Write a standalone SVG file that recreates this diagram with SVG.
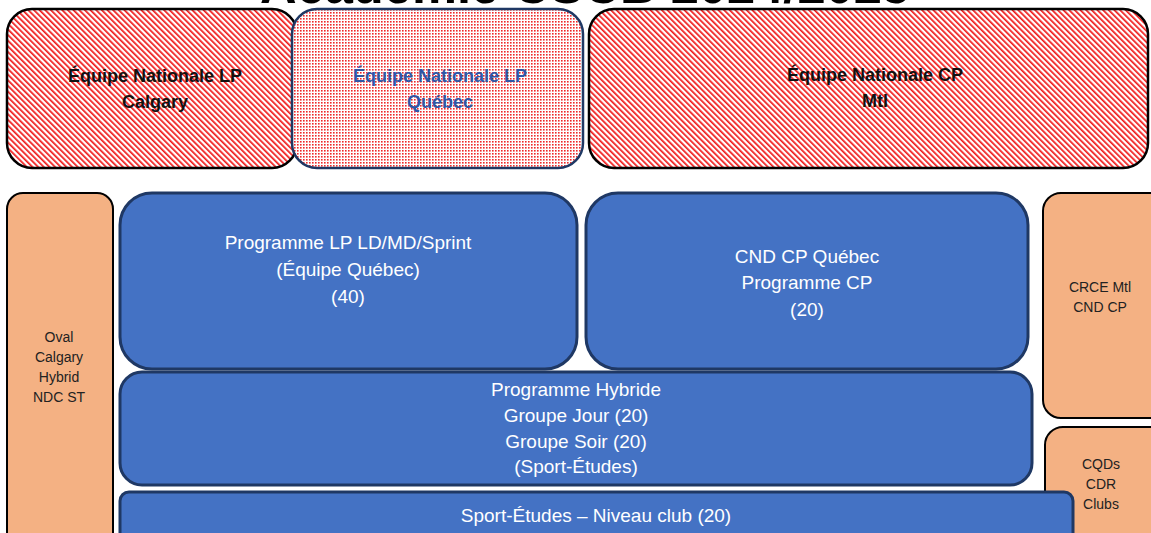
<svg xmlns="http://www.w3.org/2000/svg" width="1151" height="533" viewBox="0 0 1151 533">
  <defs>
    <pattern id="hatch" patternUnits="userSpaceOnUse" width="4" height="4" patternTransform="rotate(-45)">
      <rect width="4" height="4" fill="#ffffff"/>
      <rect width="1.7" height="4" fill="#f01818"/>
    </pattern>
    <pattern id="dots" patternUnits="userSpaceOnUse" width="3" height="3">
      <rect width="3" height="3" fill="#ffffff"/>
      <rect width="1.6" height="1.6" fill="#ee2a2a"/>
    </pattern>
    <style>
      .top { stroke: #000; stroke-width: 2.5; }
      .blue { fill: #4472c4; stroke: #1f3864; stroke-width: 3; }
      .orange { fill: #f4b183; stroke: #000; stroke-width: 2; }
      .tb { font-family: "Liberation Sans", Arial, sans-serif; font-weight: bold; font-size: 18px; text-anchor: middle; fill: #111; }
      .tq { fill: #2f56a6; }
      .tw { font-family: "Liberation Sans", Arial, sans-serif; font-size: 19px; text-anchor: middle; fill: #ffffff; }
      .to { font-family: "Liberation Sans", Arial, sans-serif; font-size: 14px; text-anchor: middle; fill: #222; }
      .title { font-family: "Liberation Sans", Arial, sans-serif; font-weight: bold; font-size: 52px; text-anchor: middle; fill: #000; }
    </style>
  </defs>
  <rect width="1151" height="533" fill="#ffffff"/>

  <text class="title" x="585" y="3" textLength="650" lengthAdjust="spacingAndGlyphs">Académie CSCB 2024/2025</text>

  <g id="node-en-lp-calgary">
    <rect class="top" x="7" y="9" width="290" height="159" rx="25" fill="url(#hatch)"/>
    <text class="tb" x="155" y="82">Équipe Nationale LP</text>
    <text class="tb" x="155" y="108">Calgary</text>
  </g>

  <g id="node-en-cp-mtl">
    <rect class="top" x="589" y="9" width="559" height="159" rx="25" fill="url(#hatch)"/>
    <text class="tb" x="875" y="81">Équipe Nationale CP</text>
    <text class="tb" x="875" y="107">Mtl</text>
  </g>

  <g id="node-en-lp-quebec">
    <rect x="292" y="9" width="291" height="159" rx="25" fill="url(#dots)" stroke="#1f3864" stroke-width="2.5"/>
    <text class="tb tq" x="440" y="82">Équipe Nationale LP</text>
    <text class="tb tq" x="440" y="108">Québec</text>
  </g>

  <g id="node-oval-calgary">
    <rect class="orange" x="7" y="193" width="106" height="360" rx="16"/>
    <text class="to" x="59" y="342">Oval</text>
    <text class="to" x="59" y="362">Calgary</text>
    <text class="to" x="59" y="382">Hybrid</text>
    <text class="to" x="59" y="402">NDC ST</text>
  </g>

  <g id="node-programme-lp">
    <rect class="blue" x="120" y="193" width="457" height="176" rx="32"/>
    <text class="tw" x="348" y="249">Programme LP LD/MD/Sprint</text>
    <text class="tw" x="348" y="276">(Équipe Québec)</text>
    <text class="tw" x="348" y="303">(40)</text>
  </g>

  <g id="node-cnd-cp-quebec">
    <rect class="blue" x="586" y="193" width="442" height="176" rx="32"/>
    <text class="tw" x="807" y="263">CND CP Québec</text>
    <text class="tw" x="807" y="289">Programme CP</text>
    <text class="tw" x="807" y="316">(20)</text>
  </g>

  <g id="node-programme-hybride">
    <rect class="blue" x="120" y="372" width="912" height="113" rx="22"/>
    <text class="tw" x="576" y="396">Programme Hybride</text>
    <text class="tw" x="576" y="422">Groupe Jour (20)</text>
    <text class="tw" x="576" y="448">Groupe Soir (20)</text>
    <text class="tw" x="576" y="473">(Sport-Études)</text>
  </g>

  <g id="node-crce-mtl">
    <rect class="orange" x="1043" y="193" width="130" height="225" rx="18"/>
    <text class="to" x="1100" y="292">CRCE Mtl</text>
    <text class="to" x="1100" y="312">CND CP</text>
  </g>

  <g id="node-cqds">
    <rect class="orange" x="1045" y="427" width="130" height="130" rx="18"/>
    <text class="to" x="1101" y="469">CQDs</text>
    <text class="to" x="1101" y="489">CDR</text>
    <text class="to" x="1101" y="509">Clubs</text>
  </g>

  <g id="node-sport-etudes">
    <rect class="blue" x="120" y="492" width="953" height="60" rx="9"/>
    <text class="tw" x="596" y="522">Sport-Études – Niveau club (20)</text>
  </g>

  <g id="connectors"></g>
</svg>
